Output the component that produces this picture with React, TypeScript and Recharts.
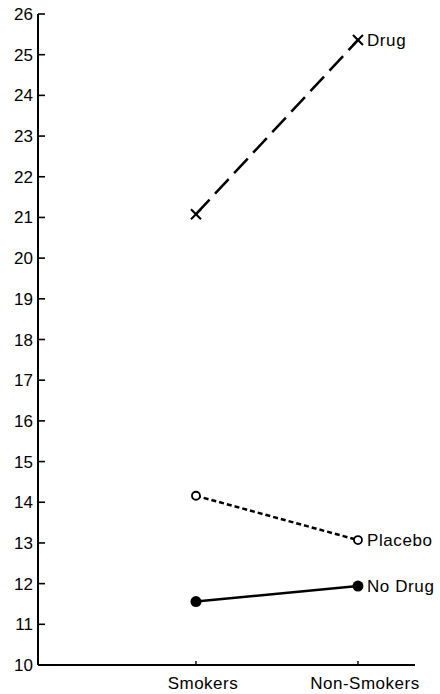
import React from 'react';
import { LineChart, Line, XAxis, YAxis } from 'recharts';

const categories = ['Smokers', 'Non-Smokers'];
const drug = [21.08, 25.36];
const placebo = [14.16, 13.07];
const noDrug = [11.56, 11.94];
const yTicks = [10, 11, 12, 13, 14, 15, 16, 17, 18, 19, 20, 21, 22, 23, 24, 25, 26];
const seriesNames = { drug: 'Drug', placebo: 'Placebo', noDrug: 'No Drug' };

const data = categories.map((c, i) => ({
  idx: i,
  cat: c,
  drug: drug[i],
  placebo: placebo[i],
  noDrug: noDrug[i],
}));

const FONT = 'Liberation Sans, Arial, sans-serif';

const YTick = (props: any) => {
  const { x, y, payload } = props;
  return (
    <g>
      <line x1={x} x2={x + 7} y1={y} y2={y} stroke="#000" strokeWidth={1.6} />
      <text x={x - 5} y={y} dy={6} textAnchor="end" fontSize={17} fontFamily={FONT} fill="#000">
        {payload.value}
      </text>
    </g>
  );
};

const XTick = (props: any) => {
  const { x, y, payload } = props;
  return (
    <g>
      <line x1={x} x2={x} y1={y} y2={y - 4} stroke="#000" strokeWidth={1.4} />
      <text x={x + 7} y={y} dy={24} textAnchor="middle" fontSize={17} fontFamily={FONT} letterSpacing={0.5} fill="#000">
        {categories[payload.value]}
      </text>
    </g>
  );
};

const CrossDot = (props: any) => {
  const { cx, cy } = props;
  if (cx == null || cy == null) return null;
  const s = 5;
  return (
    <g>
      <line x1={cx - s} y1={cy - s} x2={cx + s} y2={cy + s} stroke="#000" strokeWidth={2} />
      <line x1={cx - s} y1={cy + s} x2={cx + s} y2={cy - s} stroke="#000" strokeWidth={2} />
    </g>
  );
};

const OpenDot = (props: any) => {
  const { cx, cy } = props;
  if (cx == null || cy == null) return null;
  return <circle cx={cx} cy={cy} r={4} fill="#fff" stroke="#000" strokeWidth={1.8} />;
};

const FilledDot = (props: any) => {
  const { cx, cy } = props;
  if (cx == null || cy == null) return null;
  return <circle cx={cx} cy={cy} r={5.5} fill="#000" />;
};

const endLabel = (name: string) => (props: any) => {
  const { x, y, index } = props;
  if (index !== categories.length - 1) return null;
  return (
    <text x={x + 9} y={y} dy={6} fontSize={17} fontFamily={FONT} letterSpacing={0.6} fill="#000">
      {name}
    </text>
  );
};

export default function App() {
  return (
    <div style={{ position: 'absolute', left: 0, top: 0, background: '#fff' }}>
      <LineChart width={440} height={694} data={data} margin={{ top: 14, right: 25, bottom: 0, left: 0 }}>
        <XAxis
          dataKey="idx"
          type="number"
          domain={[-0.975, 1.352]}
          allowDataOverflow
          ticks={[0, 1]}
          height={29}
          tickSize={0}
          tickMargin={0}
          tickLine={false}
          axisLine={{ stroke: '#000', strokeWidth: 2 }}
          tick={<XTick />}
        />
        <YAxis
          type="number"
          domain={[10, 26]}
          ticks={yTicks}
          interval={0}
          width={38}
          tickSize={0}
          tickMargin={0}
          tickLine={false}
          axisLine={{ stroke: '#000', strokeWidth: 2 }}
          tick={<YTick />}
        />
        <Line
          dataKey="drug"
          stroke="#000"
          strokeWidth={2.5}
          strokeDasharray="20 8"
          dot={<CrossDot />}
          isAnimationActive={false}
          label={endLabel(seriesNames.drug)}
        />
        <Line
          dataKey="placebo"
          stroke="#000"
          strokeWidth={2.5}
          strokeDasharray="5 3"
          dot={<OpenDot />}
          isAnimationActive={false}
          label={endLabel(seriesNames.placebo)}
        />
        <Line
          dataKey="noDrug"
          stroke="#000"
          strokeWidth={2.5}
          dot={<FilledDot />}
          isAnimationActive={false}
          label={endLabel(seriesNames.noDrug)}
        />
      </LineChart>
    </div>
  );
}
